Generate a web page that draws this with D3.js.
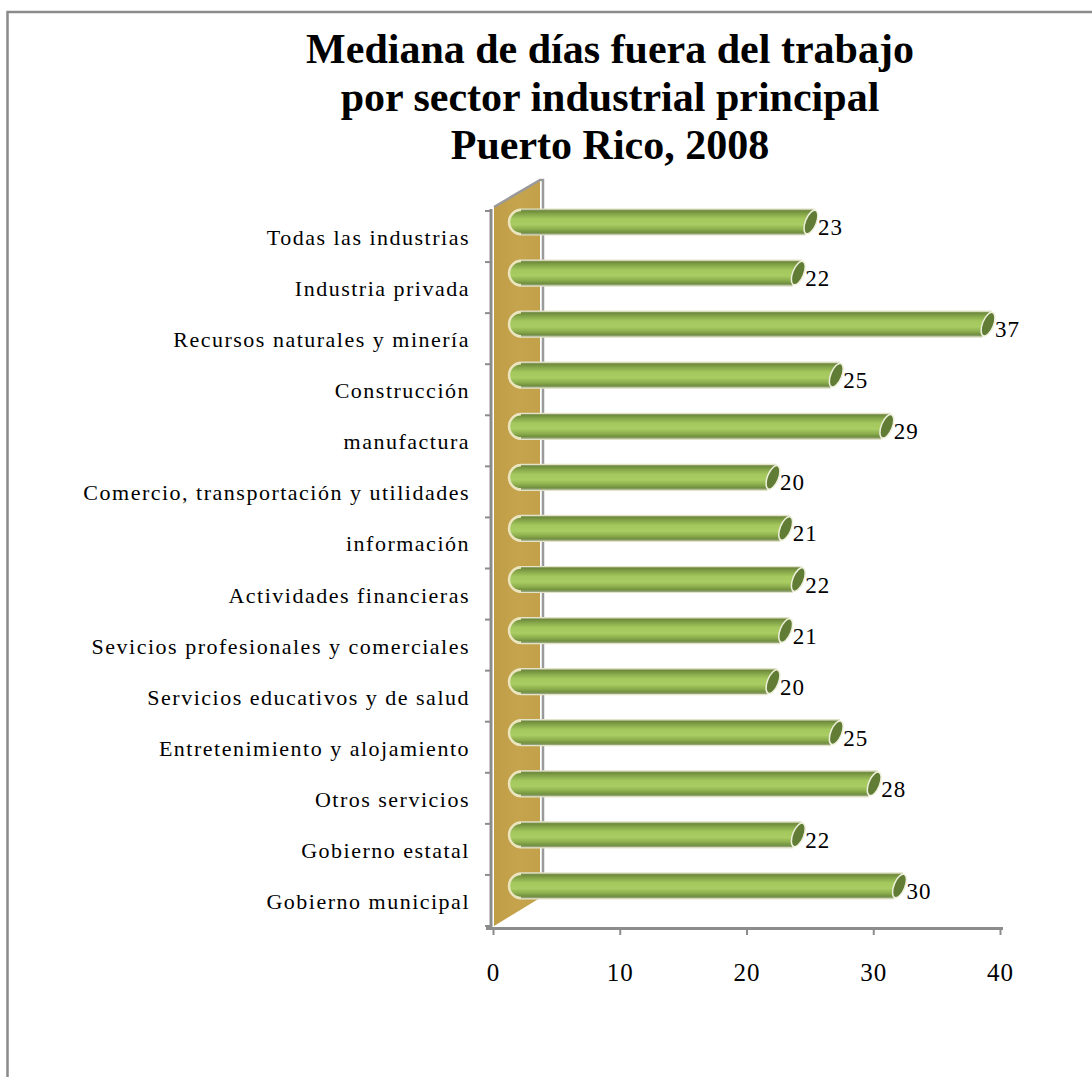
<!DOCTYPE html>
<html>
<head>
<meta charset="utf-8">
<script src="https://cdn.jsdelivr.net/npm/d3@7"></script>
<style>
  body { margin: 0; background: #fff; }
  svg { display: block; }
</style>
</head>
<body>
<div id="chart"></div>
<script>
// ---- data ----
const titleLines = ["Mediana de días fuera del trabajo", "por sector industrial  principal", "Puerto Rico, 2008"];
const categories = [
  "Todas las industrias",
  "Industria privada",
  "Recursos naturales y minería",
  "Construcción",
  "manufactura",
  "Comercio, transportación y utilidades",
  "información",
  "Actividades financieras",
  "Sevicios profesionales y comerciales",
  "Servicios educativos y de salud",
  "Entretenimiento y alojamiento",
  "Otros servicios",
  "Gobierno estatal",
  "Gobierno municipal"
];
const values = [23, 22, 37, 25, 29, 20, 21, 22, 21, 20, 25, 28, 22, 30];
const xTicks = [0, 10, 20, 30, 40];

// ---- layout ----
const W = 1092, H = 1077;
const svg = d3.select("#chart").append("svg").attr("width", W).attr("height", H);
const defs = svg.append("defs");

const barGrad = defs.append("linearGradient").attr("id", "barGrad")
  .attr("x1", 0).attr("y1", 0).attr("x2", 0).attr("y2", 1);
[[0, "#b6bd9c"], [0.07, "#6f8a3c"], [0.2, "#86a74a"], [0.38, "#a4c85d"], [0.6, "#a9cc63"],
 [0.78, "#8cad4c"], [0.9, "#718f40"], [1, "#aeb39e"]].forEach(([o, c]) =>
  barGrad.append("stop").attr("offset", o).attr("stop-color", c));

const wallGrad = defs.append("linearGradient").attr("id", "wallGrad")
  .attr("x1", 0).attr("y1", 0).attr("x2", 1).attr("y2", 0);
[[0, "#bf9c46"], [0.5, "#c6a44e"], [1, "#c3a14b"]].forEach(([o, c]) =>
  wallGrad.append("stop").attr("offset", o).attr("stop-color", c));

// border (top + left only visible)
svg.append("path").attr("d", `M7.5,${H} L7.5,12 L${W},12`)
  .attr("fill", "none").attr("stroke", "#8a8a8a").attr("stroke-width", 2.5);

// title
const title = svg.append("text").attr("text-anchor", "middle")
  .attr("font-family", "'Liberation Serif', 'Times New Roman', serif")
  .attr("font-weight", "bold").attr("font-size", 42).attr("fill", "#000");
titleLines.forEach((t, i) => title.append("tspan").attr("x", 610).attr("y", 63 + i * 48).text(t));

// scales
const x = d3.scaleLinear().domain([0, 40]).range([493, 1000]);
const xb = d3.scaleLinear().domain([0, 40]).range([519, 1025]); // front (3D offset) plane
const y = d3.scaleBand().domain(categories).range([211, 926]).padding(0);

// back wall
const wallL = x(0) + 1, wallR = 540;
svg.append("path")
  .attr("d", `M${wallL},207 L${wallR},180 L${wallR},898 L${wallL},926 Z`)
  .attr("fill", "url(#wallGrad)");
svg.append("path")
  .attr("d", `M${wallL},207 L${wallR},180 L${wallR + 3},180 L${wallR + 3},896 L${wallR},898`)
  .attr("fill", "none").attr("stroke", "#9a9a9a").attr("stroke-width", 2.5);

// y axis
svg.append("line").attr("x1", 491).attr("x2", 491).attr("y1", 209).attr("y2", 930)
  .attr("stroke", "#8c8c8c").attr("stroke-width", 3);
const bounds = categories.map(c => y(c)).concat([y.range()[1]]);
svg.selectAll(".ytick").data(bounds).enter().append("line")
  .attr("x1", 485).attr("x2", 491).attr("y1", d => d).attr("y2", d => d)
  .attr("stroke", "#8c8c8c").attr("stroke-width", 2);

// x axis
const xAxis = d3.axisBottom(x).tickValues(xTicks).tickSize(7).tickPadding(26).tickSizeOuter(0);
const gx = svg.append("g").attr("transform", "translate(0,928)").call(xAxis);
gx.select(".domain").attr("stroke", "#8c8c8c").attr("stroke-width", 3)
  .attr("d", `M486,0.5H1003`);
gx.selectAll(".tick line").attr("stroke", "#8c8c8c").attr("stroke-width", 2);
gx.selectAll(".tick text").attr("font-family", "'Liberation Serif', 'Times New Roman', serif")
  .attr("font-size", 25).attr("fill", "#000").attr("letter-spacing", 1).attr("dy", "0.78em");

// bars
const barH = 26;
const bars = svg.selectAll(".bar").data(categories.map((c, i) => ({ c, v: values[i] })))
  .enter().append("g").attr("class", "bar");

bars.each(function (d) {
  const g = d3.select(this);
  const cy = y(d.c) + 11;
  const top = cy - barH / 2, bot = cy + barH / 2;
  const x0 = xb(0), xe = xb(d.v);
  // body with left rounded cap and slanted right end
  g.append("path")
    .attr("d", `M${x0 + 2},${top} L${xe + 4},${top} L${xe - 5},${bot} L${x0 + 2},${bot}
                A12,${barH / 2} 0 0 1 ${x0 + 2},${top} Z`)
    .attr("fill", "url(#barGrad)")
    .attr("stroke", "#e2e3c8").attr("stroke-width", 1.2);
  // pale rim of the left cap
  g.append("path")
    .attr("d", `M${x0 + 2},${top + 1} A12,${barH / 2 - 1} 0 0 0 ${x0 + 2},${bot - 1}`)
    .attr("fill", "none").attr("stroke", "#ece6bf").attr("stroke-width", 2.5);
  // right cap
  g.append("ellipse")
    .attr("cx", xe + 1).attr("cy", cy).attr("rx", 5.5).attr("ry", barH / 2 - 0.5)
    .attr("transform", `rotate(22, ${xe + 1}, ${cy})`)
    .attr("fill", "#617c34").attr("stroke", "#eef0dc").attr("stroke-width", 1.5);
  // value label
  g.append("text").attr("x", xe + 8).attr("y", cy + 13)
    .attr("font-family", "'Liberation Serif', 'Times New Roman', serif")
    .attr("font-size", 23).attr("letter-spacing", 1).attr("fill", "#000")
    .text(d.v);
});

// category labels
svg.selectAll(".cat").data(categories).enter().append("text")
  .attr("x", 470).attr("y", d => y(d) + 34).attr("text-anchor", "end")
  .attr("font-family", "'Liberation Serif', 'Times New Roman', serif")
  .attr("font-size", 22).attr("letter-spacing", 1.5).attr("fill", "#000")
  .text(d => d);
</script>
</body>
</html>
